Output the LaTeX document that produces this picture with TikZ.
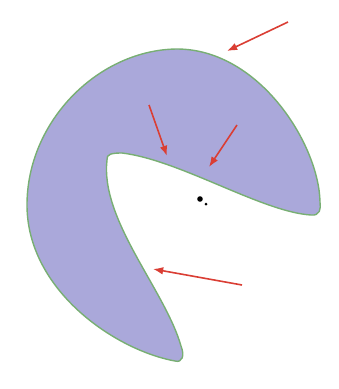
\documentclass[tikz,border=0pt]{standalone}
\usepackage{tikz}
\usetikzlibrary{arrows.meta}
\definecolor{lav}{RGB}{170,168,218}
\definecolor{rim}{RGB}{120,175,115}
\definecolor{arr}{RGB}{218,62,52}
\begin{document}
\begin{tikzpicture}[>=Latex,x=1pt,y=-1pt,arrw/.style={->,arr,line width=1.6pt}]
\useasboundingbox (0,0) rectangle (339,389);
% crescent body: outer rim, bottom tip, inner edge, right tip
\draw[fill=lav,draw=rim,line width=1.4pt] (320,202) .. controls (319,145) and (260,50) .. (178,49)
 .. controls (100,49) and (27,120) .. (27,205) .. controls (27,290) and (115,350) .. (175,361)
 .. controls (182,363) and (185,356) .. (181,346) .. controls (165,290) and (100,220) .. (107,160)
 .. controls (106,154) and (112,153) .. (122,153) .. controls (180,160) and (262,212) .. (311,215)
 .. controls (320,216) and (321,209) .. cycle;
% centre mark
\fill (200,199) circle (2.8);\fill (206,204) circle (1.5);
% arrows
\draw[arrw] (288,22)--(227,51);\draw[arrw] (149,105)--(167,156);
\draw[arrw] (237,125)--(209,167);\draw[arrw] (242,285)--(153,269);
\end{tikzpicture}
\end{document}
